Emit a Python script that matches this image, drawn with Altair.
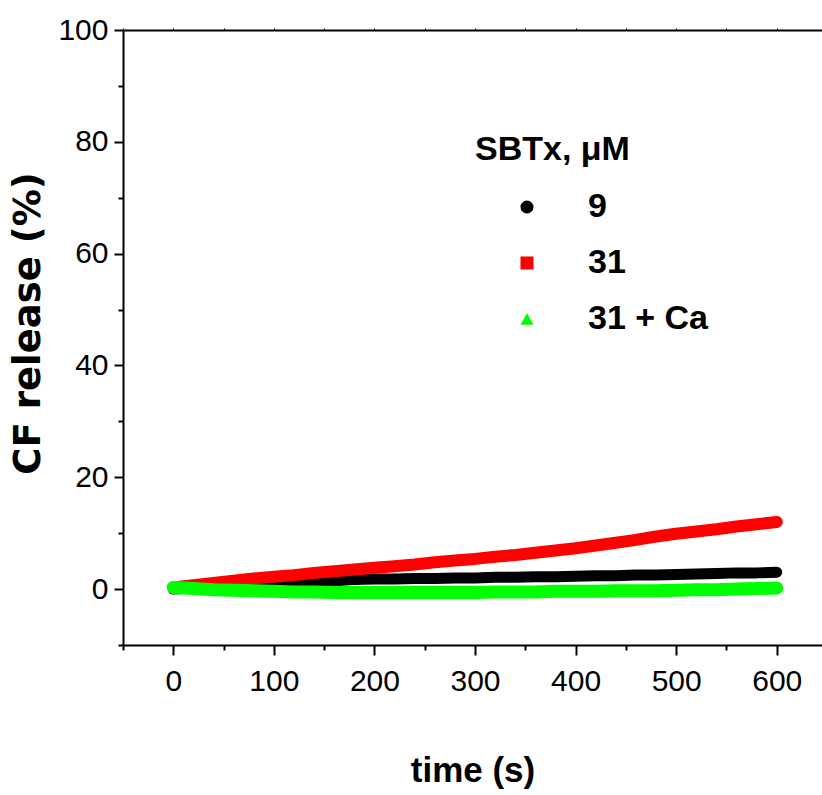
import altair as alt
import pandas as pd

# ---- data ----
time_s = [0, 20, 40, 60, 80, 100, 120, 140, 160, 180, 200, 220, 240, 260, 280, 300,
          320, 340, 360, 380, 400, 420, 440, 460, 480, 500, 520, 540, 560, 580, 600]
sbtx_9 = [0.0, 0.2, 0.4, 0.6, 0.8, 1.0, 1.2, 1.4, 1.5, 1.7, 1.8, 1.8, 1.9, 1.9, 2.0, 2.0,
          2.1, 2.1, 2.2, 2.2, 2.3, 2.4, 2.4, 2.5, 2.5, 2.6, 2.7, 2.8, 2.9, 2.9, 3.0]
sbtx_31 = [0.3, 0.7, 1.1, 1.5, 1.9, 2.2, 2.5, 2.9, 3.2, 3.5, 3.8, 4.1, 4.4, 4.8, 5.1, 5.4,
           5.8, 6.1, 6.5, 6.9, 7.3, 7.8, 8.3, 8.8, 9.4, 9.9, 10.3, 10.7, 11.2, 11.6, 12.0]
sbtx_31_ca = [0.3, 0.1, -0.1, -0.2, -0.3, -0.4, -0.5, -0.5, -0.6, -0.6, -0.6, -0.6, -0.6, -0.6, -0.6, -0.6,
              -0.5, -0.5, -0.5, -0.4, -0.4, -0.4, -0.3, -0.3, -0.3, -0.2, -0.1, -0.1, 0.0, 0.1, 0.2]
series_names = ["9", "31", "31 + Ca"]
series_colors = ["#000000", "#ff0000", "#00ff00"]
series_shapes = ["circle", "square", "triangle-up"]

x_tick_values = [-50, 0, 50, 100, 150, 200, 250, 300, 350, 400, 450, 500, 550, 600]
y_tick_values = [-10, 0, 10, 20, 30, 40, 50, 60, 70, 80, 90, 100]

rows = []
for name, vals in zip(series_names, [sbtx_9, sbtx_31, sbtx_31_ca]):
    for t, v in zip(time_s, vals):
        rows.append({"time": t, "value": v, "series": name})
df = pd.DataFrame(rows)

FONT = "Liberation Sans"

x_scale = alt.Scale(domain=[-50, 645], nice=False, zero=False)
y_scale = alt.Scale(domain=[-10, 100], nice=False, zero=False)
color_scale = alt.Scale(domain=series_names, range=series_colors)
shape_scale = alt.Scale(domain=series_names, range=series_shapes)

x_axis = alt.Axis(
    title="time (s)", values=x_tick_values,
    labelExpr="datum.value % 100 === 0 ? datum.label : ''",
    tickSize={"condition": {"test": "datum.value % 100 === 0", "value": 10}, "value": 5},
    tickWidth=2, domainWidth=2, domainColor="black", tickColor="black",
    labelFont=FONT, labelFontSize=30, labelColor="black", labelPadding=11,
    titleFont=FONT, titleFontSize=35, titleFontWeight="bold", titleColor="black",
    titleBaseline="alphabetic", titleY=136, grid=False, labelFlush=False,
)
y_axis = alt.Axis(
    title="CF release (%)", values=y_tick_values,
    labelExpr="datum.value % 20 === 0 ? datum.label : ''",
    tickSize={"condition": {"test": "datum.value % 20 === 0", "value": 9}, "value": 5},
    tickWidth=2, domainWidth=2, domainColor="black", tickColor="black",
    labelFont=FONT, labelFontSize=30, labelColor="black", labelPadding=6,
    titleFont="DejaVu Sans", titleFontSize=37, titleFontWeight="bold", titleColor="black",
    titleAngle=270, titleAlign="center", titleBaseline="middle",
    titleX=-95, titleY=293, grid=False, labelFlush=False,
)
top_axis = alt.Axis(
    orient="top", title=None, values=x_tick_values, labels=False,
    tickSize=2, tickWidth=1, domainWidth=2, domainColor="black", tickColor="black",
    grid=False,
)

legend = alt.Legend(
    title="SBTx, μM", orient="none", legendX=352, legendY=103, padding=0,
    titleFont=FONT, titleFontSize=34, titleFontWeight="bold", titleColor="black",
    titlePadding=23, titleAnchor="start",
    labelFont=FONT, labelFontSize=34, labelFontWeight="bold", labelColor="black",
    symbolSize=170, symbolStrokeWidth=0, symbolOffset=35, labelOffset=44,
    rowPadding=22,
)

Y = alt.Y("value:Q", scale=y_scale, axis=y_axis)

points = alt.Chart(df).mark_point(filled=True, size=50, opacity=1).encode(
    x=alt.X("time:Q", scale=x_scale, axis=x_axis),
    y=Y,
    color=alt.Color("series:N", scale=color_scale, legend=legend),
    shape=alt.Shape("series:N", scale=shape_scale, legend=legend),
)

def band(name, colour, width):
    return alt.Chart(df).transform_filter(alt.datum.series == name).mark_line(
        strokeWidth=width, strokeCap="round", strokeJoin="round", color=colour
    ).encode(
        x=alt.X("time:Q", scale=x_scale, axis=None),
        y=Y,
    )

top = alt.Chart(df).mark_point(opacity=0).encode(
    x=alt.X("time:Q", scale=x_scale, axis=top_axis),
    y=Y,
)

chart = alt.layer(
    points,
    band(series_names[0], series_colors[0], 11),
    band(series_names[1], series_colors[1], 12),
    band(series_names[2], series_colors[2], 13),
    top,
).resolve_axis(x="independent").properties(
    width=699, height=615,
    background="white",
    autosize=alt.AutoSizeParams(type="none"),
    padding={"left": 123, "top": 30, "right": 0, "bottom": 150},
).configure_view(stroke=None)

chart.save("out.html", embed_options={"renderer": "svg", "actions": False})
